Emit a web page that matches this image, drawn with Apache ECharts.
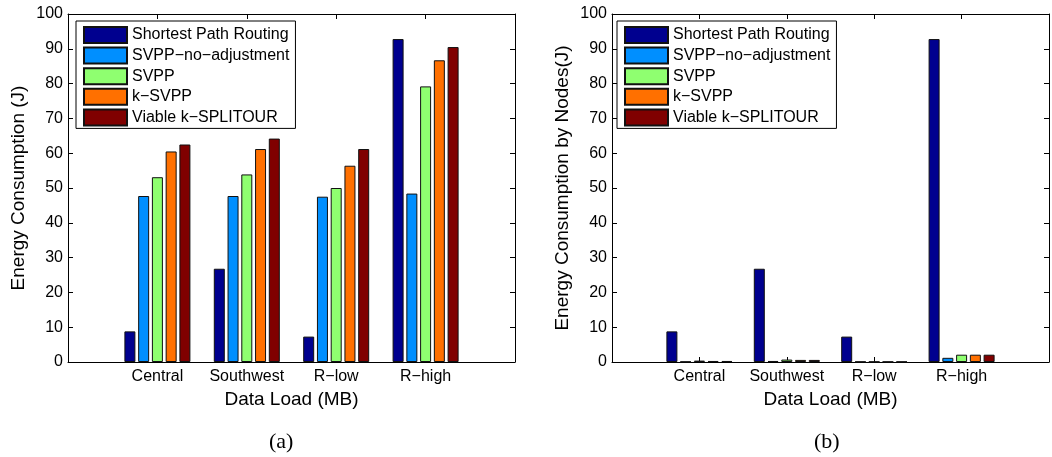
<!DOCTYPE html>
<html><head><meta charset="utf-8">
<script src="https://cdn.jsdelivr.net/npm/echarts@6/dist/echarts.min.js"></script>
<style>html,body{margin:0;padding:0;background:#fff}#c{width:1052px;height:457px}</style>
</head><body><div id="c"></div>
<script>
const categories = ['Central', 'Southwest', 'R\u2212low', 'R\u2212high'];
const seriesNames = ['Shortest Path Routing', 'SVPP\u2212no\u2212adjustment', 'SVPP', 'k\u2212SVPP', 'Viable k\u2212SPLITOUR'];
const colors = ['#00008f', '#008fff', '#8fff70', '#ff7000', '#800000'];
const yMin = 0, yMax = 100, yStep = 10;
const captions = ['(a)', '(b)'];
const yTitles = ['Energy Consumption (J)', 'Energy Consumption by Nodes(J)'];
const xTitle = 'Data Load (MB)';

// (a) total energy consumption
const totalShortest = [8.8, 26.8, 7.3, 92.8];
const totalNoAdj    = [47.7, 47.7, 47.5, 48.4];
const totalSVPP     = [53.1, 53.9, 50.0, 79.2];
const totalKSVPP    = [60.5, 61.2, 56.4, 86.7];
const totalViable   = [62.5, 64.2, 61.2, 90.5];

// (b) energy consumption by nodes
const nodesShortest = [8.8, 26.8, 7.3, 92.8];
const nodesNoAdj    = [0.1, 0.3, 0.1, 1.2];
const nodesSVPP     = [0.4, 0.7, 0.1, 2.1];
const nodesKSVPP    = [0.3, 0.6, 0.1, 2.1];
const nodesViable   = [0.3, 0.6, 0.1, 2.1];

const FONT = "'Liberation Sans', Arial, sans-serif";
const panelA = [totalShortest, totalNoAdj, totalSVPP, totalKSVPP, totalViable];
const panelB = [nodesShortest, nodesNoAdj, nodesSVPP, nodesKSVPP, nodesViable];

const grids = [
  {left: 68, top: 14, width: 447, height: 348},
  {left: 612, top: 14, width: 443, height: 348}
];
const legendLeft = [76, 617];
const captionX = [269, 814];

const xAxes = [], yAxes = [], series = [], legends = [], graphics = [];
const lineStyle = {color: '#000', width: 1};
const axisLine = {show: true, onZero: false, lineStyle};
const axisTick = {show: true, inside: true, length: 5, lineStyle};
grids.forEach((g, gi) => {
  xAxes.push({
    type: 'value', gridIndex: gi, position: 'bottom', min: 0, max: categories.length + 1, interval: 1,
    axisLine, axisTick, splitLine: {show: false},
    axisLabel: {show: true, margin: 7, color: '#000', fontSize: 16, fontFamily: FONT,
      formatter: v => (v >= 1 && v <= categories.length) ? categories[v - 1] : ''},
    name: xTitle, nameLocation: 'middle', nameGap: 23,
    nameTextStyle: {color: '#000', fontSize: 19, fontFamily: FONT}
  });
  xAxes.push({
    type: 'value', gridIndex: gi, position: 'top', min: 0, max: categories.length + 1, interval: 1,
    axisLine, axisTick, splitLine: {show: false}, axisLabel: {show: false}
  });
  yAxes.push({
    type: 'value', gridIndex: gi, position: 'left', min: yMin, max: yMax, interval: yStep,
    axisLine, axisTick, splitLine: {show: false},
    axisLabel: {margin: 5, color: '#000', fontSize: 16, fontFamily: FONT},
    name: yTitles[gi], nameLocation: 'middle', nameRotate: 90, nameGap: 40,
    nameTextStyle: {color: '#000', fontSize: 19, fontFamily: FONT}
  });
  yAxes.push({
    type: 'value', gridIndex: gi, position: 'right', min: yMin, max: yMax, interval: yStep,
    axisLine, axisTick, splitLine: {show: false}, axisLabel: {show: false}
  });
  const panel = gi === 0 ? panelA : panelB;
  panel.forEach((vals, si) => {
    series.push({
      type: 'bar', name: seriesNames[si], xAxisIndex: gi * 2, yAxisIndex: gi * 2,
      data: vals.map((v, ci) => [ci + 1, v]),
      barWidth: 11, barGap: '25%',
      itemStyle: {color: colors[si], borderColor: '#111', borderWidth: 1},
      emphasis: {disabled: true}
    });
  });
  legends.push({
    orient: 'vertical', left: legendLeft[gi], top: 21,
    data: seriesNames, icon: 'rect', itemWidth: 43, itemHeight: 16, itemGap: 2.6,
    padding: [5, 6, 2, 7], backgroundColor: '#fff', borderColor: '#000', borderWidth: 1,
    textStyle: {color: '#000', fontSize: 16, fontFamily: FONT},
    selectedMode: false, z: 10
  });
  graphics.push({
    type: 'text', left: captionX[gi], top: 431,
    style: {text: captions[gi], fill: '#000', font: "22px 'Liberation Serif', 'Times New Roman', serif", textAlign: 'center'}
  });
});

const chart = echarts.init(document.getElementById('c'), null, {renderer: 'canvas'});
chart.setOption({
  animation: false,
  backgroundColor: '#fff',
  grid: grids,
  xAxis: xAxes,
  yAxis: yAxes,
  legend: legends,
  series: series,
  graphic: graphics
});
</script></body></html>
